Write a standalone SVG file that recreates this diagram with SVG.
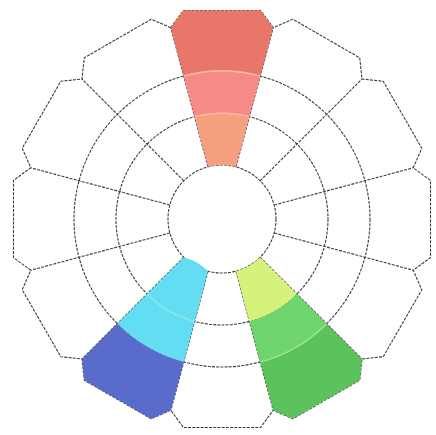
<svg xmlns="http://www.w3.org/2000/svg" width="436" height="435" viewBox="0 0 436 435">
<style>
.ln{fill:none;stroke:#3c3c3c;stroke-width:1.1;stroke-dasharray:3 1.2;stroke-linejoin:round}
.sep{fill:none;stroke-width:1.6}
</style>
<rect width="436" height="435" fill="#ffffff"/>
<g id="grid" class="ln">
  <circle cx="222" cy="219" r="54"/>
  <circle cx="222" cy="219" r="106"/>
  <circle cx="222" cy="219" r="148"/>
  <path d="M208.0,166.8L170.8,27.7M236.0,166.8L273.2,27.7M260.2,180.8L362.0,79.0M274.2,205.0L413.2,167.8M274.2,233.0L413.2,270.2M260.2,257.2L362.0,359.0M236.0,271.2L273.2,410.2M208.0,271.2L170.8,410.2M183.8,257.2L82.0,359.0M169.8,233.0L30.8,270.2M169.8,205.0L30.8,167.8M183.8,180.8L82.0,79.0"/>
  <path d="M170.8,27.7L183.4,10.5L260.6,10.5L273.2,27.7L292.8,19.2L359.7,57.8L362.0,79.0L383.2,81.3L421.8,148.2L413.2,167.8L430.5,180.4L430.5,257.6L413.2,270.2L421.8,289.8L383.2,356.7L362.0,359.0L359.7,380.2L292.8,418.8L273.2,410.2L260.6,427.5L183.4,427.5L170.8,410.2L151.2,418.8L84.3,380.2L82.0,359.0L60.8,356.7L22.2,289.8L30.8,270.2L13.5,257.6L13.5,180.4L30.8,167.8L22.2,148.2L60.8,81.3L82.0,79.0L84.3,57.8L151.2,19.2Z"/>
</g>
<g id="red">
  <path fill="#f6a07f" d="M208.0,166.8L194.6,116.6A106,106 0 0 1 249.4,116.6L236.0,166.8A54,54 0 0 0 208.0,166.8Z"/>
  <path fill="#f58a86" d="M194.6,116.6L183.7,76.0A148,148 0 0 1 260.3,76.0L249.4,116.6A106,106 0 0 0 194.6,116.6Z"/>
  <path fill="#e8766a" d="M183.7,76.0L170.8,27.7L183.4,10.5L260.6,10.5L273.2,27.7L260.3,76.0A148,148 0 0 0 183.7,76.0Z"/>
  <path class="sep" stroke="#f9b8ab" d="M194.6,116.6A106,106 0 0 1 249.4,116.6M183.7,76.0A148,148 0 0 1 260.3,76.0"/>
</g>
<g id="green">
  <path fill="#d4f27c" d="M260.2,257.2L297.0,294.0A106,106 0 0 1 249.4,321.4L236.0,271.2A54,54 0 0 0 260.2,257.2Z"/>
  <path fill="#6ed46e" d="M297.0,294.0L326.7,323.7A148,148 0 0 1 260.3,362.0L249.4,321.4A106,106 0 0 0 297.0,294.0Z"/>
  <path fill="#5cc35c" d="M326.7,323.7L362.0,359.0L359.7,380.2L292.8,418.8L273.2,410.2L260.3,362.0A148,148 0 0 0 326.7,323.7Z"/>
  <path class="sep" stroke="#9ee48c" d="M326.7,323.7A148,148 0 0 1 260.3,362.0"/>
</g>
<g id="blue">
  <path fill="#62ddf2" d="M208.0,271.2L183.7,362.0A148,148 0 0 1 117.3,323.7L183.8,257.2A54,54 0 0 1 208.0,271.2Z"/>
  <path fill="#5a6ccb" d="M183.7,362.0L170.8,410.2L151.2,418.8L84.3,380.2L82.0,359.0L117.3,323.7A148,148 0 0 0 183.7,362.0Z"/>
  <path class="sep" stroke="#8fe6ee" d="M194.6,321.4A106,106 0 0 1 147.0,294.0"/>
</g>
</svg>
